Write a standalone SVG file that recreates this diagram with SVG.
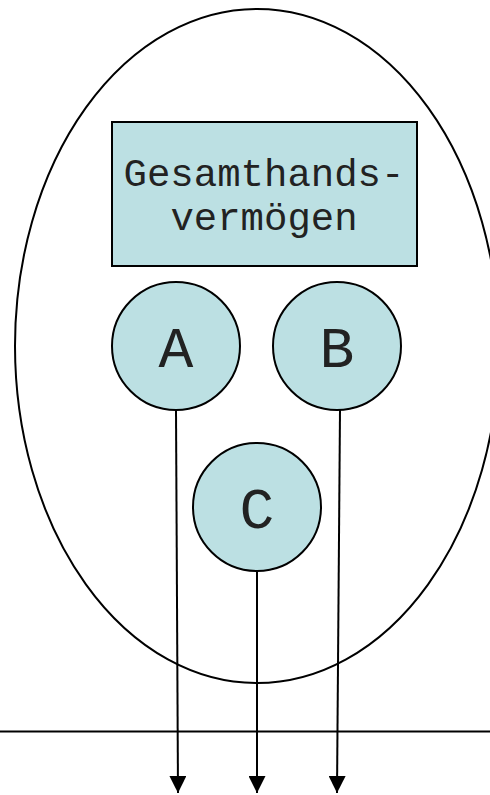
<svg xmlns="http://www.w3.org/2000/svg" width="490" height="795" viewBox="0 0 490 795">
<style>
.n{fill:#BCE0E3;stroke:#000;stroke-width:2}
.t{font-family:"Liberation Mono","Courier New",monospace;fill:#222;text-anchor:middle}
.c{stroke:#000;stroke-width:2;fill:none}
</style>
<defs>
<marker id="ah" viewBox="0 0 10 10" refX="10" refY="5" markerWidth="17" markerHeight="17" markerUnits="userSpaceOnUse" orient="auto">
<path d="M0,0 L10,5 L0,10 z" fill="#000"/>
</marker>
</defs>
<rect width="490" height="795" fill="#fff"/>
<g id="outer"><ellipse cx="257" cy="346" rx="242" ry="337" fill="none" stroke="#000" stroke-width="2"/></g>
<g id="gesamthand">
<rect class="n" x="112" y="122" width="305" height="144"/>
<text class="t" x="264" y="186" font-size="39">Gesamthands-</text>
<text class="t" x="264" y="230" font-size="39">vermögen</text>
</g>
<g id="A"><circle class="n" cx="176" cy="346" r="64"/><text class="t" x="176" y="367" font-size="58">A</text></g>
<g id="B"><circle class="n" cx="337" cy="346" r="64"/><text class="t" x="337" y="367" font-size="58">B</text></g>
<g id="C"><circle class="n" cx="257" cy="507" r="64"/><text class="t" x="257" y="528" font-size="58">C</text></g>
<g id="connectors">
<line class="c" x1="0" y1="731.5" x2="490" y2="731.5"/>
<path d="M176,410 L178,793" class="c" marker-end="url(#ah)"/>
<path d="M257,571 L257,793" class="c" marker-end="url(#ah)"/>
<path d="M340,410 L337,793" class="c" marker-end="url(#ah)"/>
</g>
</svg>
